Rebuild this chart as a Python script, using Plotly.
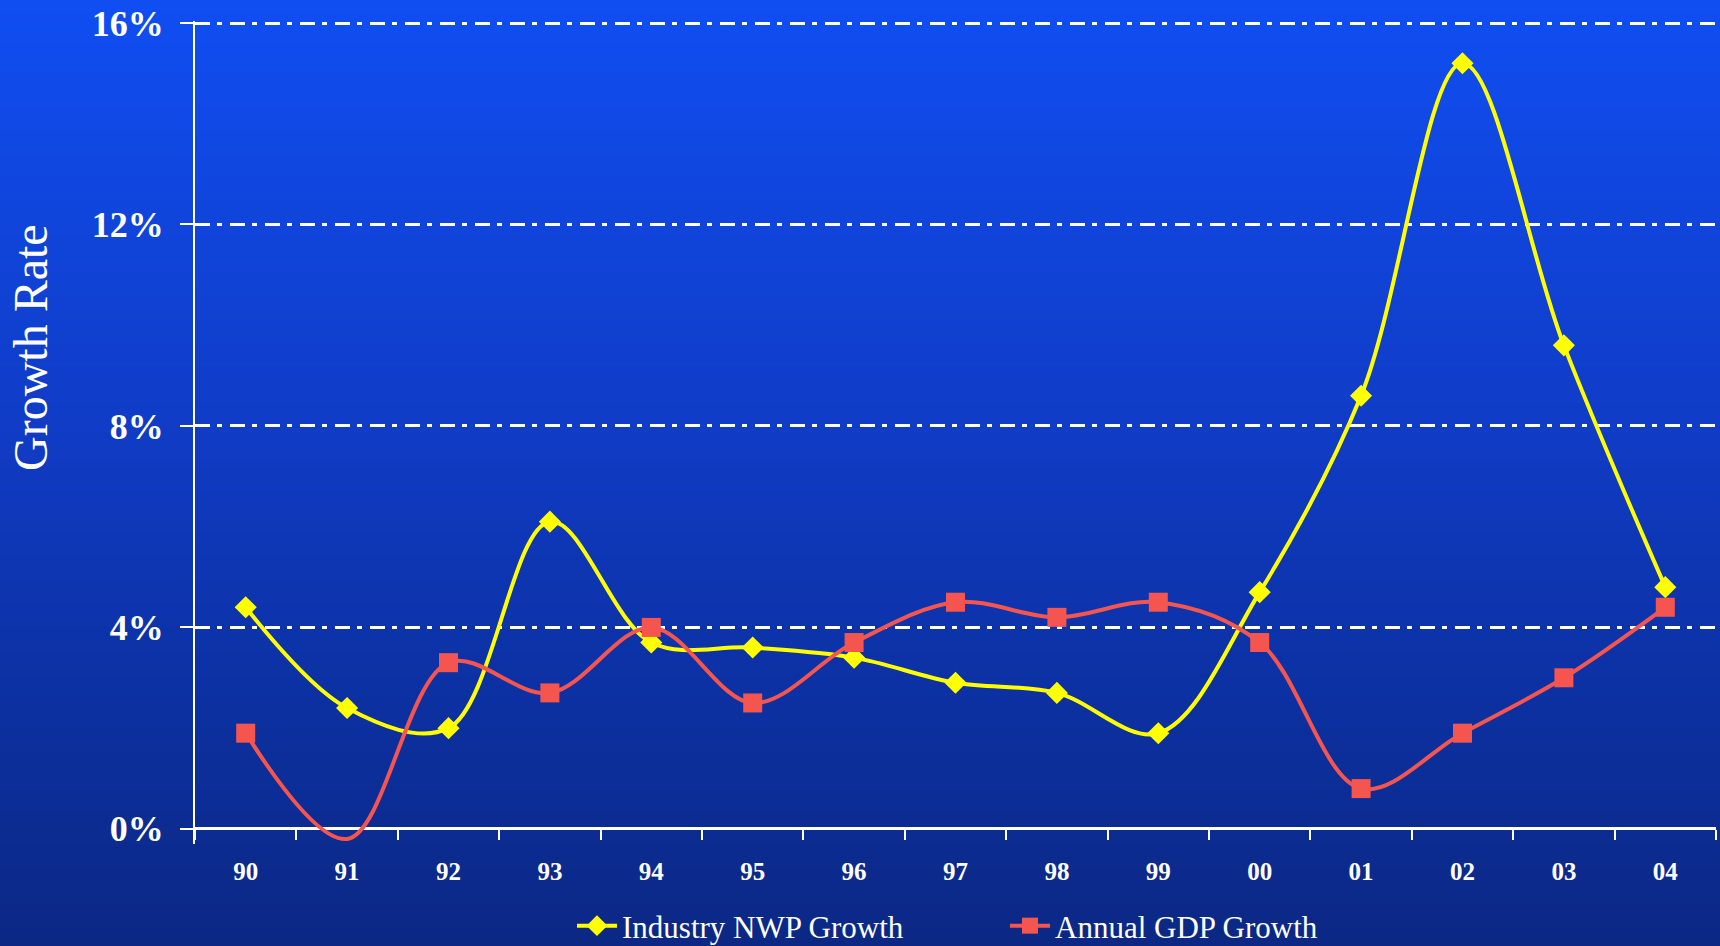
import plotly.graph_objects as go

# ---- data ----
years = ['90', '91', '92', '93', '94', '95', '96', '97', '98', '99', '00', '01', '02', '03', '04']
nwp_growth = [4.4, 2.4, 2.0, 6.1, 3.7, 3.6, 3.4, 2.9, 2.7, 1.9, 4.7, 8.6, 15.2, 9.6, 4.8]
gdp_growth = [1.9, -0.2, 3.3, 2.7, 4.0, 2.5, 3.7, 4.5, 4.2, 4.5, 3.7, 0.8, 1.9, 3.0, 4.4]
y_ticks = [0, 4, 8, 12, 16]
y_tick_labels = ['0%', '4%', '8%', '12%', '16%']

# ---- layout geometry ----
W, H = 1720, 946
ML, MR, MT, MB = 195, 4, 21, 102
Y_MIN, Y_MAX = -0.3, 16.04
PW, PH = W - ML - MR, H - MT - MB

FONT = "Liberation Serif, Times New Roman, serif"

# red marker hidden where the point falls below the axis
gdp_sizes = [0 if v < 0 else 19 for v in gdp_growth]

fig = go.Figure()
fig.add_trace(go.Scatter(
    x=years, y=nwp_growth, name="Industry NWP Growth",
    mode="lines+markers", line=dict(color="#FFFF00", width=4, shape="spline", smoothing=1.0),
    marker=dict(symbol="diamond", size=17, color="#FFFF00", opacity=1, line=dict(width=0)),
))
fig.add_trace(go.Scatter(
    x=years, y=gdp_growth, name="Annual GDP Growth",
    mode="lines+markers", line=dict(color="#F5554F", width=4, shape="spline", smoothing=1.0),
    marker=dict(symbol="square", size=gdp_sizes, color="#F5554F", opacity=1, line=dict(width=0)),
))

# vertical gradient background built from thin strips
stops = [(0.0, (16, 78, 242)), (0.45, (16, 60, 198)), (0.75, (12, 48, 160)), (1.0, (12, 40, 132))]

def grad(t):
    for (t0, c0), (t1, c1) in zip(stops[:-1], stops[1:]):
        if t <= t1:
            f = (t - t0) / (t1 - t0) if t1 > t0 else 0
            return tuple(round(a + (b - a) * f) for a, b in zip(c0, c1))
    return stops[-1][1]

N = 160
shapes = []
for i in range(N):
    p0 = i * H / N
    p1 = (i + 1) * H / N + 1
    c = grad((i + 0.5) / N)
    shapes.append(dict(
        type="rect", xref="paper", yref="paper", layer="below",
        x0=-ML / PW - 0.01, x1=1 + MR / PW + 0.01,
        y0=(H - MB - p1) / PH, y1=(H - MB - p0) / PH,
        fillcolor="rgb(%d,%d,%d)" % c, line=dict(width=0),
    ))

x_axis_pos = (0 - Y_MIN) / (Y_MAX - Y_MIN)

def px_x(p):
    return (p - ML) / PW

def px_y(p):
    return (H - MB - p) / PH

fig.update_layout(
    width=W, height=H,
    margin=dict(l=ML, r=MR, t=MT, b=MB, pad=0, autoexpand=False),
    paper_bgcolor="rgb(12,40,132)",
    plot_bgcolor="rgba(0,0,0,0)",
    shapes=shapes,
    showlegend=True,
    legend=dict(
        orientation="h", x=px_x(572), xanchor="left",
        y=px_y(926), yanchor="middle",
        font=dict(family=FONT, size=31, color="white"),
        bgcolor="rgba(0,0,0,0)", itemwidth=40,
        entrywidth=378, entrywidthmode="pixels",
    ),
    annotations=[dict(
        text="Growth Rate", textangle=-90, showarrow=False,
        xref="paper", yref="paper", x=px_x(30), y=px_y(348),
        xanchor="center", yanchor="middle",
        font=dict(family=FONT, size=48, color="white"),
    )],
    xaxis=dict(
        type="category", anchor="free", position=x_axis_pos,
        range=[-0.5, len(years) - 0.5],
        showline=True, linecolor="white", linewidth=2, layer="below traces",
        ticks="outside", tickson="boundaries", ticklen=10, tickwidth=2, tickcolor="white",
        showgrid=False, zeroline=False,
        tickfont=dict(family=FONT, size=25, color="white", weight="bold"),
        ticklabelstandoff=20,
    ),
    yaxis=dict(
        range=[Y_MIN, Y_MAX], tickvals=y_ticks, ticktext=y_tick_labels,
        showline=True, linecolor="white", linewidth=2, layer="below traces",
        ticks="outside", ticklen=13, tickwidth=2, tickcolor="white",
        showgrid=True, gridcolor="white", gridwidth=2.5, griddash="15px,7px,5px,8px",
        zeroline=True, zerolinecolor="white", zerolinewidth=3,
        tickfont=dict(family=FONT, size=36, color="white", weight="bold"),
        ticklabelstandoff=9,
    ),
)

fig.write_html(
    "out.html",
    config={"displayModeBar": False},
    post_script="document.body.style.margin='0';document.body.style.overflow='hidden';",
)
